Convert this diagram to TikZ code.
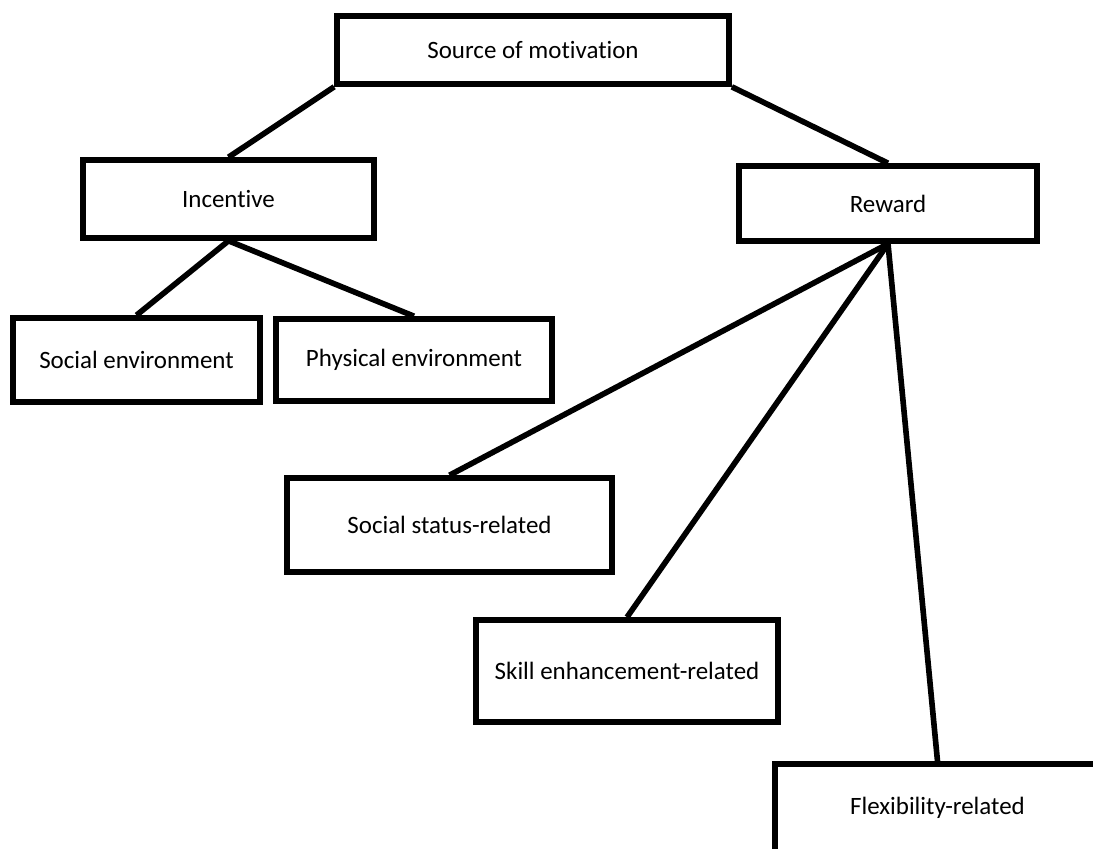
\documentclass[tikz,border=0pt]{standalone}
\usepackage{fontspec}
\setmainfont{Carlito}[Ligatures=NoCommon]
\usepackage{tikz}
\usetikzlibrary{positioning}

\tikzset{
    motbox/.style={draw, rectangle, line width=3.2pt, inner sep=0pt, font=\fontsize{14.2}{17}\selectfont},
    motline/.style={line width=3.2pt}
}

\begin{document}
\begin{tikzpicture}

% Page frame
\useasboundingbox (0, 0) rectangle (21.86, -16.96);
\clip (0, 0) rectangle (21.86, -16.96);

% Top level
\node[motbox, minimum width=7.84cm, minimum height=1.36cm] (src) at (10.66, -1.0) {Source of motivation};

% Second level
\node[motbox, minimum width=5.82cm, minimum height=1.56cm] (inc) at (4.57, -3.98) {Incentive};
\node[motbox, minimum width=5.96cm, minimum height=1.5cm] (rew) at (17.76, -4.07) {Reward};

% Incentive children
\node[motbox, minimum width=4.94cm, minimum height=1.68cm] (socenv) at (2.73, -7.2) {Social environment};
\node[motbox, minimum width=5.52cm, minimum height=1.64cm] (phyenv) at (8.28, -7.2) {Physical environment};

% Reward children
\node[motbox, minimum width=6.5cm, minimum height=1.88cm] (status) at (8.99, -10.5) {Social status-related};
\node[motbox, minimum width=6.04cm, minimum height=2.04cm] (skill) at (12.54, -13.42) {Skill enhancement-related};
\node[motbox, minimum width=6.5cm, minimum height=1.76cm] (flex) at (18.75, -16.16) {Flexibility-related};

% Connectors
\draw[motline] (src.south west) -- (inc.north);
\draw[motline] (src.south east) -- (rew.north);
\draw[motline] (inc.south) -- (socenv.north);
\draw[motline] (inc.south) -- (phyenv.north);
\draw[motline] (rew.south) -- (status.north);
\draw[motline] (rew.south) -- (skill.north);
\draw[motline] (rew.south) -- (flex.north);

\end{tikzpicture}
\end{document}
